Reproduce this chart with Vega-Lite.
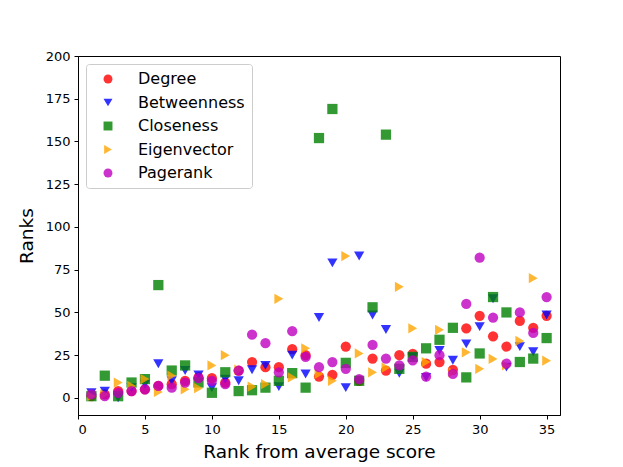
{
  "$schema": "https://vega.github.io/schema/vega-lite/v6.json",
  "autosize": "none",
  "width": 482,
  "height": 359,
  "padding": {"left": 78, "top": 56, "right": 63, "bottom": 52},
  "background": "white",
  "config": {
    "font": "DejaVu Sans",
    "view": {"stroke": "#000", "strokeWidth": 1},
    "axis": {
      "domainColor": "#000",
      "tickColor": "#000",
      "tickSize": 4,
      "labelPadding": 4,
      "labelColor": "#000",
      "titleColor": "#000",
      "labelFontSize": 13,
      "titleFontSize": 18.5,
      "titleFontWeight": "normal",
      "grid": false,
      "labelFont": "DejaVu Sans",
      "titleFont": "DejaVu Sans"
    }
  },
  "data": {
    "values": [
      {"rank": 1, "series": "Degree", "value": 1},
      {"rank": 2, "series": "Degree", "value": 2},
      {"rank": 3, "series": "Degree", "value": 4},
      {"rank": 4, "series": "Degree", "value": 4},
      {"rank": 5, "series": "Degree", "value": 5},
      {"rank": 6, "series": "Degree", "value": 7},
      {"rank": 7, "series": "Degree", "value": 8},
      {"rank": 8, "series": "Degree", "value": 10},
      {"rank": 9, "series": "Degree", "value": 12},
      {"rank": 10, "series": "Degree", "value": 11.5},
      {"rank": 11, "series": "Degree", "value": 9},
      {"rank": 12, "series": "Degree", "value": 16},
      {"rank": 13, "series": "Degree", "value": 21},
      {"rank": 14, "series": "Degree", "value": 18},
      {"rank": 15, "series": "Degree", "value": 18},
      {"rank": 16, "series": "Degree", "value": 28.5},
      {"rank": 17, "series": "Degree", "value": 25},
      {"rank": 18, "series": "Degree", "value": 12.5},
      {"rank": 19, "series": "Degree", "value": 13.5},
      {"rank": 20, "series": "Degree", "value": 30},
      {"rank": 21, "series": "Degree", "value": 10},
      {"rank": 22, "series": "Degree", "value": 23},
      {"rank": 23, "series": "Degree", "value": 16},
      {"rank": 24, "series": "Degree", "value": 25},
      {"rank": 25, "series": "Degree", "value": 25.7},
      {"rank": 26, "series": "Degree", "value": 20},
      {"rank": 27, "series": "Degree", "value": 21},
      {"rank": 28, "series": "Degree", "value": 16.4},
      {"rank": 29, "series": "Degree", "value": 40.7},
      {"rank": 30, "series": "Degree", "value": 48},
      {"rank": 31, "series": "Degree", "value": 36},
      {"rank": 32, "series": "Degree", "value": 30},
      {"rank": 33, "series": "Degree", "value": 45},
      {"rank": 34, "series": "Degree", "value": 41},
      {"rank": 35, "series": "Degree", "value": 48},

      {"rank": 1, "series": "Betweenness", "value": 3},
      {"rank": 2, "series": "Betweenness", "value": 4},
      {"rank": 3, "series": "Betweenness", "value": 0},
      {"rank": 4, "series": "Betweenness", "value": 6},
      {"rank": 5, "series": "Betweenness", "value": 8},
      {"rank": 6, "series": "Betweenness", "value": 20},
      {"rank": 7, "series": "Betweenness", "value": 10},
      {"rank": 8, "series": "Betweenness", "value": 16},
      {"rank": 9, "series": "Betweenness", "value": 13.5},
      {"rank": 10, "series": "Betweenness", "value": 6},
      {"rank": 11, "series": "Betweenness", "value": 11},
      {"rank": 12, "series": "Betweenness", "value": 10},
      {"rank": 13, "series": "Betweenness", "value": 16.5},
      {"rank": 14, "series": "Betweenness", "value": 19},
      {"rank": 15, "series": "Betweenness", "value": 6.6},
      {"rank": 16, "series": "Betweenness", "value": 25},
      {"rank": 17, "series": "Betweenness", "value": 14},
      {"rank": 18, "series": "Betweenness", "value": 47},
      {"rank": 19, "series": "Betweenness", "value": 79},
      {"rank": 20, "series": "Betweenness", "value": 6},
      {"rank": 21, "series": "Betweenness", "value": 83},
      {"rank": 22, "series": "Betweenness", "value": 48.5},
      {"rank": 23, "series": "Betweenness", "value": 40},
      {"rank": 24, "series": "Betweenness", "value": 14.4},
      {"rank": 25, "series": "Betweenness", "value": 24},
      {"rank": 26, "series": "Betweenness", "value": 12},
      {"rank": 27, "series": "Betweenness", "value": 27.7},
      {"rank": 28, "series": "Betweenness", "value": 22},
      {"rank": 29, "series": "Betweenness", "value": 31.6},
      {"rank": 30, "series": "Betweenness", "value": 41.7},
      {"rank": 31, "series": "Betweenness", "value": 58},
      {"rank": 32, "series": "Betweenness", "value": 18},
      {"rank": 33, "series": "Betweenness", "value": 30},
      {"rank": 34, "series": "Betweenness", "value": 27},
      {"rank": 35, "series": "Betweenness", "value": 48.5},

      {"rank": 1, "series": "Closeness", "value": 1},
      {"rank": 2, "series": "Closeness", "value": 13},
      {"rank": 3, "series": "Closeness", "value": 1},
      {"rank": 4, "series": "Closeness", "value": 9},
      {"rank": 5, "series": "Closeness", "value": 11},
      {"rank": 6, "series": "Closeness", "value": 66},
      {"rank": 7, "series": "Closeness", "value": 16},
      {"rank": 8, "series": "Closeness", "value": 19},
      {"rank": 9, "series": "Closeness", "value": 9},
      {"rank": 10, "series": "Closeness", "value": 3},
      {"rank": 11, "series": "Closeness", "value": 15},
      {"rank": 12, "series": "Closeness", "value": 4},
      {"rank": 13, "series": "Closeness", "value": 4.5},
      {"rank": 14, "series": "Closeness", "value": 6},
      {"rank": 15, "series": "Closeness", "value": 10},
      {"rank": 16, "series": "Closeness", "value": 14.5},
      {"rank": 17, "series": "Closeness", "value": 6},
      {"rank": 18, "series": "Closeness", "value": 152},
      {"rank": 19, "series": "Closeness", "value": 169},
      {"rank": 20, "series": "Closeness", "value": 20.5},
      {"rank": 21, "series": "Closeness", "value": 10},
      {"rank": 22, "series": "Closeness", "value": 53},
      {"rank": 23, "series": "Closeness", "value": 154},
      {"rank": 24, "series": "Closeness", "value": 17},
      {"rank": 25, "series": "Closeness", "value": 24},
      {"rank": 26, "series": "Closeness", "value": 29},
      {"rank": 27, "series": "Closeness", "value": 34},
      {"rank": 28, "series": "Closeness", "value": 41},
      {"rank": 29, "series": "Closeness", "value": 12},
      {"rank": 30, "series": "Closeness", "value": 26},
      {"rank": 31, "series": "Closeness", "value": 59},
      {"rank": 32, "series": "Closeness", "value": 50},
      {"rank": 33, "series": "Closeness", "value": 21},
      {"rank": 34, "series": "Closeness", "value": 23},
      {"rank": 35, "series": "Closeness", "value": 35},

      {"rank": 1, "series": "Eigenvector", "value": 1},
      {"rank": 2, "series": "Eigenvector", "value": 2},
      {"rank": 3, "series": "Eigenvector", "value": 9},
      {"rank": 4, "series": "Eigenvector", "value": 7},
      {"rank": 5, "series": "Eigenvector", "value": 11},
      {"rank": 6, "series": "Eigenvector", "value": 3.5},
      {"rank": 7, "series": "Eigenvector", "value": 13},
      {"rank": 8, "series": "Eigenvector", "value": 5},
      {"rank": 9, "series": "Eigenvector", "value": 5.7},
      {"rank": 10, "series": "Eigenvector", "value": 19},
      {"rank": 11, "series": "Eigenvector", "value": 25},
      {"rank": 12, "series": "Eigenvector", "value": 16.5},
      {"rank": 13, "series": "Eigenvector", "value": 6.6},
      {"rank": 14, "series": "Eigenvector", "value": 8},
      {"rank": 15, "series": "Eigenvector", "value": 58},
      {"rank": 16, "series": "Eigenvector", "value": 12},
      {"rank": 17, "series": "Eigenvector", "value": 29},
      {"rank": 18, "series": "Eigenvector", "value": 14},
      {"rank": 19, "series": "Eigenvector", "value": 10},
      {"rank": 20, "series": "Eigenvector", "value": 83},
      {"rank": 21, "series": "Eigenvector", "value": 26},
      {"rank": 22, "series": "Eigenvector", "value": 15},
      {"rank": 23, "series": "Eigenvector", "value": 17.7},
      {"rank": 24, "series": "Eigenvector", "value": 65},
      {"rank": 25, "series": "Eigenvector", "value": 40.7},
      {"rank": 26, "series": "Eigenvector", "value": 21},
      {"rank": 27, "series": "Eigenvector", "value": 39.8},
      {"rank": 28, "series": "Eigenvector", "value": 15},
      {"rank": 29, "series": "Eigenvector", "value": 26.7},
      {"rank": 30, "series": "Eigenvector", "value": 17},
      {"rank": 31, "series": "Eigenvector", "value": 22.8},
      {"rank": 32, "series": "Eigenvector", "value": 19},
      {"rank": 33, "series": "Eigenvector", "value": 33.3},
      {"rank": 34, "series": "Eigenvector", "value": 70},
      {"rank": 35, "series": "Eigenvector", "value": 21.8},

      {"rank": 1, "series": "Pagerank", "value": 2},
      {"rank": 2, "series": "Pagerank", "value": 1},
      {"rank": 3, "series": "Pagerank", "value": 3},
      {"rank": 4, "series": "Pagerank", "value": 4},
      {"rank": 5, "series": "Pagerank", "value": 5},
      {"rank": 6, "series": "Pagerank", "value": 7},
      {"rank": 7, "series": "Pagerank", "value": 6},
      {"rank": 8, "series": "Pagerank", "value": 9},
      {"rank": 9, "series": "Pagerank", "value": 11.5},
      {"rank": 10, "series": "Pagerank", "value": 10},
      {"rank": 11, "series": "Pagerank", "value": 8},
      {"rank": 12, "series": "Pagerank", "value": 16},
      {"rank": 13, "series": "Pagerank", "value": 37},
      {"rank": 14, "series": "Pagerank", "value": 32},
      {"rank": 15, "series": "Pagerank", "value": 15},
      {"rank": 16, "series": "Pagerank", "value": 39},
      {"rank": 17, "series": "Pagerank", "value": 24},
      {"rank": 18, "series": "Pagerank", "value": 18},
      {"rank": 19, "series": "Pagerank", "value": 21},
      {"rank": 20, "series": "Pagerank", "value": 17},
      {"rank": 21, "series": "Pagerank", "value": 11},
      {"rank": 22, "series": "Pagerank", "value": 31},
      {"rank": 23, "series": "Pagerank", "value": 23},
      {"rank": 24, "series": "Pagerank", "value": 19},
      {"rank": 25, "series": "Pagerank", "value": 22},
      {"rank": 26, "series": "Pagerank", "value": 12.5},
      {"rank": 27, "series": "Pagerank", "value": 25},
      {"rank": 28, "series": "Pagerank", "value": 14},
      {"rank": 29, "series": "Pagerank", "value": 55},
      {"rank": 30, "series": "Pagerank", "value": 82},
      {"rank": 31, "series": "Pagerank", "value": 47},
      {"rank": 32, "series": "Pagerank", "value": 20},
      {"rank": 33, "series": "Pagerank", "value": 50},
      {"rank": 34, "series": "Pagerank", "value": 38},
      {"rank": 35, "series": "Pagerank", "value": 59}
    ]
  },
  "mark": {"type": "point", "filled": true, "opacity": 0.8, "size": 105, "strokeWidth": 0},
  "encoding": {
    "x": {
      "field": "rank",
      "type": "quantitative",
      "scale": {"domain": [0, 36], "nice": false, "zero": false},
      "axis": {"values": [0, 5, 10, 15, 20, 25, 30, 35], "title": "Rank from average score", "titlePadding": 6}
    },
    "y": {
      "field": "value",
      "type": "quantitative",
      "scale": {"domain": [-10, 200], "nice": false, "zero": false},
      "axis": {"values": [0, 25, 50, 75, 100, 125, 150, 175, 200], "title": "Ranks", "titlePadding": 9}
    },
    "color": {
      "field": "series",
      "type": "nominal",
      "scale": {
        "domain": ["Degree", "Betweenness", "Closeness", "Eigenvector", "Pagerank"],
        "range": ["#ff0000", "#0000ff", "#008000", "#ffa500", "#bf00bf"]
      },
      "legend": {
        "title": null,
        "orient": "none",
        "legendX": 8,
        "legendY": 8,
        "labelFontSize": 16,
        "labelFont": "DejaVu Sans",
        "labelColor": "#000",
        "symbolSize": 80,
        "symbolOpacity": 0.8,
        "symbolStrokeWidth": 0,
        "symbolOffset": 7,
        "rowPadding": 7.5,
        "labelOffset": 22,
        "padding": 7,
        "fillColor": "white",
        "strokeColor": "#cccccc",
        "cornerRadius": 3,
        "offset": 0
      }
    },
    "shape": {
      "field": "series",
      "type": "nominal",
      "scale": {
        "domain": ["Degree", "Betweenness", "Closeness", "Eigenvector", "Pagerank"],
        "range": ["circle", "triangle-down", "square", "triangle-right", "circle"]
      },
      "legend": null
    }
  }
}
